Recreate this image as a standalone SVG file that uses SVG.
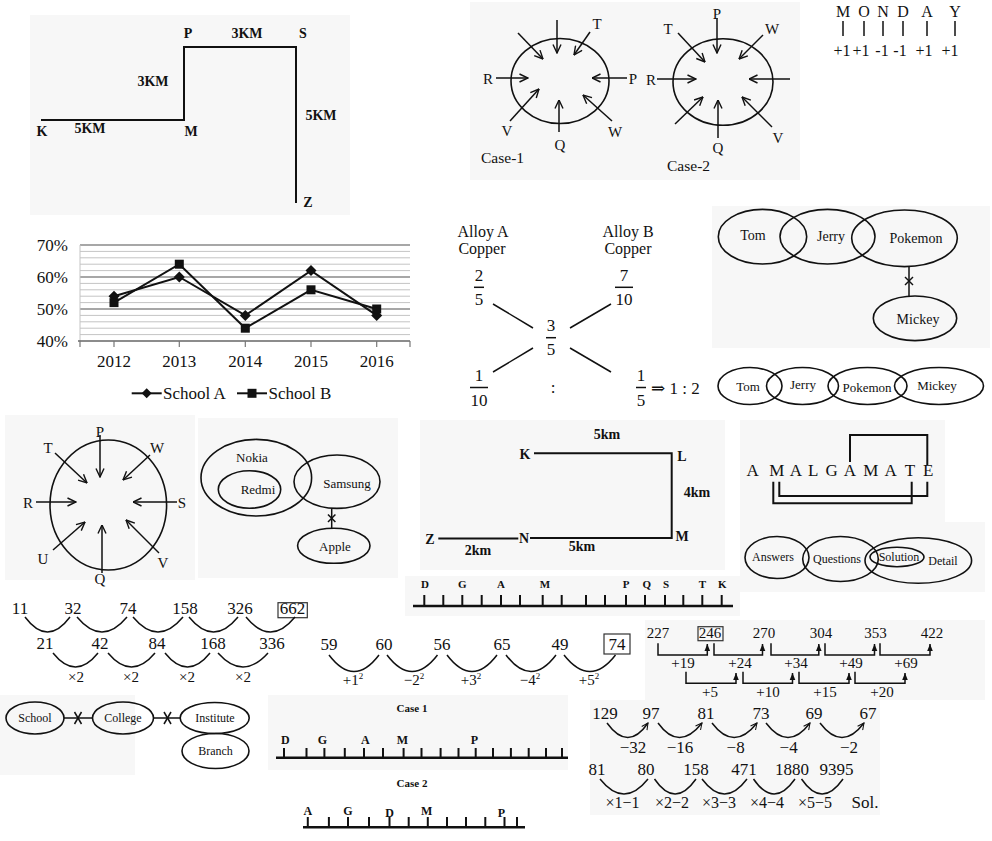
<svg xmlns="http://www.w3.org/2000/svg" width="992" height="841" viewBox="0 0 992 841">
<defs>
<style>
text{font-family:"Liberation Serif","DejaVu Serif",serif;fill:#111}
.b{font-weight:bold}
.m{text-anchor:middle}
.r{text-anchor:end}
.l{stroke:#111;fill:none;stroke-width:2}
.lt{stroke:#111;fill:none;stroke-width:1.5}
.e{stroke:#111;fill:none;stroke-width:1.6}
.bg{fill:#f7f7f7}
.gmin{stroke:#c4c4c4;stroke-width:1}
.gmaj{stroke:#8a8a8a;stroke-width:1.6}
.s11{font-size:11px}.s12{font-size:12px}.s13{font-size:13px}.s14{font-size:14px}.s15{font-size:15px}.s16{font-size:16px}.s17{font-size:17px}
</style>
<marker id="va" viewBox="0 0 10 10" refX="9.5" refY="5" markerWidth="10" markerHeight="10" markerUnits="userSpaceOnUse" orient="auto"><path d="M1,1 L9.5,5 L1,9" fill="none" stroke="#111" stroke-width="1.4"/></marker>
<marker id="tri" viewBox="0 0 10 10" refX="10" refY="5" markerWidth="7" markerHeight="7" markerUnits="userSpaceOnUse" orient="auto"><path d="M0,1 L10,5 L0,9 z" fill="#111"/></marker>
<marker id="vs" viewBox="0 0 10 10" refX="9" refY="5" markerWidth="8" markerHeight="8" markerUnits="userSpaceOnUse" orient="auto"><path d="M1,1 L9,5 L1,9" fill="none" stroke="#111" stroke-width="1.3"/></marker>
</defs>
<rect width="992" height="841" fill="#fff"/>

<g id="backgrounds">
<rect class="bg" x="30" y="15" width="320" height="200"/>
<rect class="bg" x="470" y="2" width="330" height="178"/>
<rect class="bg" x="712" y="206" width="278" height="142"/>
<rect class="bg" x="5" y="415" width="190" height="165"/>
<rect class="bg" x="198" y="418" width="200" height="160"/>
<rect class="bg" x="420" y="420" width="305" height="150"/>
<rect class="bg" x="405" y="576" width="335" height="40"/>
<rect class="bg" x="740" y="420" width="205" height="102"/>
<rect class="bg" x="740" y="522" width="245" height="70"/>
<rect class="bg" x="645" y="620" width="340" height="80"/>
<rect class="bg" x="0" y="695" width="135" height="80"/>
<rect class="bg" x="268" y="695" width="300" height="75"/>
<rect class="bg" x="590" y="700" width="290" height="115"/>
</g>

<g id="route-kmpsz">
<g id="route-connectors"><polyline class="l" stroke-width="2.5" points="41,120 184,120 184,47 296,47 296,203"/></g>
<g class="b s14">
<text x="188" y="38" class="m">P</text>
<text x="247" y="38" class="m">3KM</text>
<text x="303" y="38" class="m">S</text>
<text x="153" y="86" class="m">3KM</text>
<text x="321" y="120" class="m">5KM</text>
<text x="42" y="136" class="m">K</text>
<text x="90" y="133" class="m">5KM</text>
<text x="191" y="136" class="m">M</text>
<text x="308" y="207" class="m">Z</text>
</g>
</g>

<g id="case1-circle">
<ellipse class="e" cx="560" cy="81" rx="49" ry="42.5"/>
<g id="case1-arrows" class="lt">
<line x1="518" y1="33" x2="543" y2="59" marker-end="url(#va)"/>
<line x1="557" y1="20" x2="557" y2="53" marker-end="url(#va)"/>
<line x1="590" y1="32" x2="574" y2="55" marker-end="url(#va)"/>
<line x1="627" y1="78" x2="592" y2="78" marker-end="url(#va)"/>
<line x1="496" y1="78" x2="528" y2="78" marker-end="url(#va)"/>
<line x1="510" y1="121" x2="539" y2="89" marker-end="url(#va)"/>
<line x1="559" y1="132" x2="559" y2="100" marker-end="url(#va)"/>
<line x1="612" y1="121" x2="583" y2="95" marker-end="url(#va)"/>
</g>
<g class="s15">
<text x="597" y="29" class="m">T</text>
<text x="633" y="84" class="m">P</text>
<text x="488" y="84" class="m">R</text>
<text x="507" y="136" class="m">V</text>
<text x="560" y="150" class="m">Q</text>
<text x="615" y="137" class="m">W</text>
</g>
<text x="481" y="163" font-size="15.5">Case-1</text>
</g>

<g id="case2-circle">
<ellipse class="e" cx="723" cy="82" rx="50" ry="43.3"/>
<g id="case2-arrows" class="lt">
<line x1="678" y1="33" x2="705" y2="62" marker-end="url(#va)"/>
<line x1="717" y1="18" x2="717" y2="53" marker-end="url(#va)"/>
<line x1="763" y1="35" x2="739" y2="59" marker-end="url(#va)"/>
<line x1="657" y1="79" x2="696" y2="79" marker-end="url(#va)"/>
<line x1="790" y1="79" x2="749" y2="79" marker-end="url(#va)"/>
<line x1="675" y1="124" x2="703" y2="97" marker-end="url(#va)"/>
<line x1="718" y1="138" x2="718" y2="100" marker-end="url(#va)"/>
<line x1="772" y1="127" x2="742" y2="97" marker-end="url(#va)"/>
</g>
<g class="s15">
<text x="668" y="34" class="m">T</text>
<text x="717" y="19" class="m">P</text>
<text x="772" y="34" class="m">W</text>
<text x="651" y="85" class="m">R</text>
<text x="718" y="153" class="m">Q</text>
<text x="778" y="143" class="m">V</text>
</g>
<text x="667" y="171" font-size="15.5">Case-2</text>
</g>

<g id="monday">
<g class="s16">
<text x="843" y="17" class="m">M</text>
<text x="864" y="17" class="m">O</text>
<text x="883" y="17" class="m">N</text>
<text x="903" y="17" class="m">D</text>
<text x="927" y="17" class="m">A</text>
<text x="955" y="17" class="m">Y</text>
</g>
<g id="monday-connectors" class="lt">
<line x1="843" y1="21" x2="843" y2="36"/>
<line x1="864" y1="21" x2="864" y2="36"/>
<line x1="883" y1="21" x2="883" y2="36"/>
<line x1="903" y1="21" x2="903" y2="36"/>
<line x1="927" y1="21" x2="927" y2="36"/>
<line x1="955" y1="21" x2="955" y2="36"/>
</g>
<g class="s16">
<text x="842" y="56" class="m">+1</text>
<text x="861" y="56" class="m">+1</text>
<text x="882" y="56" class="m">-1</text>
<text x="900" y="56" class="m">-1</text>
<text x="924" y="56" class="m">+1</text>
<text x="950" y="56" class="m">+1</text>
</g>
</g>

<g id="chart">
<g id="grid">
<line class="gmin" x1="80" y1="251.4" x2="410" y2="251.4"/>
<line class="gmin" x1="80" y1="257.8" x2="410" y2="257.8"/>
<line class="gmin" x1="80" y1="264.2" x2="410" y2="264.2"/>
<line class="gmin" x1="80" y1="270.6" x2="410" y2="270.6"/>
<line class="gmin" x1="80" y1="283.4" x2="410" y2="283.4"/>
<line class="gmin" x1="80" y1="289.8" x2="410" y2="289.8"/>
<line class="gmin" x1="80" y1="296.2" x2="410" y2="296.2"/>
<line class="gmin" x1="80" y1="302.6" x2="410" y2="302.6"/>
<line class="gmin" x1="80" y1="315.4" x2="410" y2="315.4"/>
<line class="gmin" x1="80" y1="321.8" x2="410" y2="321.8"/>
<line class="gmin" x1="80" y1="328.2" x2="410" y2="328.2"/>
<line class="gmin" x1="80" y1="334.6" x2="410" y2="334.6"/>
<line class="gmaj" x1="80" y1="245" x2="410" y2="245"/>
<line class="gmaj" x1="80" y1="277" x2="410" y2="277"/>
<line class="gmaj" x1="80" y1="309" x2="410" y2="309"/>
<line class="gmin" x1="80" y1="245" x2="80" y2="341"/>
<line stroke="#666" stroke-width="1.6" x1="78" y1="341" x2="410" y2="341"/>
<g stroke="#777" stroke-width="1.2">
<line x1="80" y1="341" x2="80" y2="347"/>
<line x1="114" y1="341" x2="114" y2="347"/>
<line x1="179.3" y1="341" x2="179.3" y2="347"/>
<line x1="245.3" y1="341" x2="245.3" y2="347"/>
<line x1="311" y1="341" x2="311" y2="347"/>
<line x1="376.7" y1="341" x2="376.7" y2="347"/>
<line x1="410" y1="341" x2="410" y2="347"/>
</g>
</g>
<g class="s17">
<text x="68" y="251" class="r">70%</text>
<text x="68" y="283" class="r">60%</text>
<text x="68" y="315" class="r">50%</text>
<text x="68" y="347" class="r">40%</text>
<text x="114" y="367" class="m">2012</text>
<text x="179.3" y="367" class="m">2013</text>
<text x="245.3" y="367" class="m">2014</text>
<text x="311" y="367" class="m">2015</text>
<text x="376.7" y="367" class="m">2016</text>
</g>
<g id="series-a">
<polyline class="l" stroke-width="2.5" points="114,296.2 179.3,277 245.3,315.4 311,270.6 376.7,315.4"/>
<g fill="#111">
<path d="M114,290.7 l5.5,5.5 l-5.5,5.5 l-5.5,-5.5z"/>
<path d="M179.3,271.5 l5.5,5.5 l-5.5,5.5 l-5.5,-5.5z"/>
<path d="M245.3,309.9 l5.5,5.5 l-5.5,5.5 l-5.5,-5.5z"/>
<path d="M311,265.1 l5.5,5.5 l-5.5,5.5 l-5.5,-5.5z"/>
<path d="M376.7,309.9 l5.5,5.5 l-5.5,5.5 l-5.5,-5.5z"/>
</g>
</g>
<g id="series-b">
<polyline class="l" stroke-width="2.5" points="114,302.6 179.3,264.2 245.3,328.2 311,289.8 376.7,309"/>
<g fill="#111">
<rect x="109.5" y="298.1" width="9" height="9"/>
<rect x="174.8" y="259.7" width="9" height="9"/>
<rect x="240.8" y="323.7" width="9" height="9"/>
<rect x="306.5" y="285.3" width="9" height="9"/>
<rect x="372.2" y="304.5" width="9" height="9"/>
</g>
</g>
<g id="legend">
<line class="l" x1="131.7" y1="393.3" x2="161.7" y2="393.3"/>
<path d="M146.7,388.3 l5,5 l-5,5 l-5,-5z" fill="#111"/>
<text x="163" y="398.5" class="s17">School A</text>
<line class="l" x1="237" y1="393.3" x2="267" y2="393.3"/>
<rect x="247.5" y="388.8" width="9" height="9" fill="#111"/>
<text x="268.5" y="398.5" class="s17">School B</text>
</g>
</g>

<g id="alloy">
<g class="s16">
<text x="483" y="237" class="m">Alloy A</text>
<text x="482" y="254" class="m">Copper</text>
<text x="628" y="237" class="m">Alloy B</text>
<text x="628" y="254" class="m">Copper</text>
</g>
<g class="s17">
<text x="479" y="281" class="m">2</text>
<text x="479" y="305" class="m">5</text>
<text x="624" y="281" class="m">7</text>
<text x="624" y="305" class="m">10</text>
<text x="551" y="331" class="m">3</text>
<text x="551" y="355" class="m">5</text>
<text x="479" y="381" class="m">1</text>
<text x="479" y="406" class="m">10</text>
<text x="641" y="381" class="m">1</text>
<text x="641" y="406" class="m">5</text>
<text x="553" y="393" class="m">:</text>
<text x="651" y="394">⇒ 1 : 2</text>
</g>
<g id="alloy-connectors" class="lt">
<line x1="474" y1="287.3" x2="484" y2="287.3"/>
<line x1="615" y1="287.3" x2="633" y2="287.3"/>
<line x1="546" y1="337.7" x2="556" y2="337.7"/>
<line x1="470" y1="387.5" x2="488" y2="387.5"/>
<line x1="636" y1="387.5" x2="646" y2="387.5"/>
<line x1="493" y1="304" x2="533" y2="328"/>
<line x1="570" y1="328" x2="611" y2="304"/>
<line x1="533" y1="348" x2="493" y2="372"/>
<line x1="570" y1="348" x2="611" y2="372"/>
</g>
</g>

<g id="venn-tom">
<g id="tom"><ellipse class="e" cx="762.5" cy="236.7" rx="44.2" ry="27.3"/><text x="753" y="240" class="m s14">Tom</text></g>
<g id="jerry"><ellipse class="e" cx="827.5" cy="236.7" rx="47.5" ry="27.3"/><text x="831" y="241" class="m s14">Jerry</text></g>
<g id="pokemon"><ellipse class="e" cx="904.5" cy="238.3" rx="52.8" ry="28.3"/><text x="916" y="243" class="m s14">Pokemon</text></g>
<g id="mickey"><ellipse class="e" cx="915" cy="318.3" rx="41.7" ry="22.3"/><text x="918" y="324" class="m s14">Mickey</text></g>
<g id="venn-tom-connectors" class="lt">
<line x1="909" y1="266.6" x2="909" y2="296"/>
<line x1="905" y1="277" x2="913" y2="285"/>
<line x1="913" y1="277" x2="905" y2="285"/>
</g>
</g>

<g id="venn-row">
<g id="tom2"><ellipse class="e" cx="750" cy="386" rx="32" ry="18.5"/><text x="748" y="391" class="m s13">Tom</text></g>
<g id="jerry2"><ellipse class="e" cx="802.5" cy="386" rx="36" ry="18.5"/><text x="803" y="389" class="m s13">Jerry</text></g>
<g id="pokemon2"><ellipse class="e" cx="867.5" cy="386" rx="39.5" ry="18.5"/><text x="867" y="392" class="m s13">Pokemon</text></g>
<g id="mickey2"><ellipse class="e" cx="939" cy="386" rx="44.5" ry="18.5"/><text x="937" y="390" class="m s13">Mickey</text></g>
</g>

<g id="compass">
<ellipse class="e" cx="108.3" cy="505" rx="58.3" ry="65"/>
<g id="compass-arrows" class="lt">
<line x1="100" y1="435" x2="100" y2="477" marker-end="url(#va)"/>
<line x1="55" y1="453" x2="87" y2="483" marker-end="url(#va)"/>
<line x1="150" y1="455" x2="123" y2="480" marker-end="url(#va)"/>
<line x1="36" y1="502" x2="76" y2="502" marker-end="url(#va)"/>
<line x1="177" y1="502" x2="133" y2="502" marker-end="url(#va)"/>
<line x1="53" y1="550" x2="85" y2="522" marker-end="url(#va)"/>
<line x1="102" y1="573" x2="102" y2="525" marker-end="url(#va)"/>
<line x1="159" y1="553" x2="126" y2="520" marker-end="url(#va)"/>
</g>
<g class="s15">
<text x="100" y="437" class="m">P</text>
<text x="48" y="453" class="m">T</text>
<text x="157" y="453" class="m">W</text>
<text x="28" y="508" class="m">R</text>
<text x="182" y="508" class="m">S</text>
<text x="43" y="564" class="m">U</text>
<text x="163" y="568" class="m">V</text>
<text x="100" y="584" class="m">Q</text>
</g>
</g>

<g id="venn-nokia">
<g id="nokia"><ellipse class="e" cx="256.3" cy="477.7" rx="55.3" ry="38.3"/><text x="252" y="462" class="m s13">Nokia</text></g>
<g id="redmi"><ellipse class="e" cx="249.5" cy="489.5" rx="31.2" ry="18.8"/><text x="258" y="494" class="m s13">Redmi</text></g>
<g id="samsung"><ellipse class="e" cx="337" cy="481.7" rx="43" ry="26.7"/><text x="347" y="488" class="m s13">Samsung</text></g>
<g id="apple"><ellipse class="e" cx="333.8" cy="545.8" rx="36.2" ry="17.5"/><text x="335" y="551" class="m s13">Apple</text></g>
<g id="venn-nokia-connectors" class="lt">
<line x1="331.7" y1="508.3" x2="331.7" y2="528.3"/>
<line x1="328" y1="514.5" x2="335.4" y2="522"/>
<line x1="335.4" y1="514.5" x2="328" y2="522"/>
</g>
</g>

<g id="route-klmnz">
<g id="route2-connectors" class="l" stroke-width="2.5">
<polyline points="534,453.3 671.7,453.3 671.7,538 530,538"/>
<line x1="438.3" y1="538.5" x2="518.3" y2="538.5"/>
</g>
<g class="b s14">
<text x="525" y="459" class="m">K</text>
<text x="682" y="461" class="m">L</text>
<text x="607" y="439" class="m">5km</text>
<text x="697" y="497" class="m">4km</text>
<text x="682" y="541" class="m">M</text>
<text x="524" y="543" class="m">N</text>
<text x="430" y="544" class="m">Z</text>
<text x="478" y="555" class="m">2km</text>
<text x="582" y="551" class="m">5km</text>
</g>
</g>

<g id="ruler-top">
<g class="b s11">
<text x="425" y="588" class="m">D</text>
<text x="462.3" y="588" class="m">G</text>
<text x="501" y="588" class="m">A</text>
<text x="545" y="588" class="m">M</text>
<text x="626" y="588" class="m">P</text>
<text x="646.7" y="588" class="m">Q</text>
<text x="666" y="588" class="m">S</text>
<text x="702.3" y="588" class="m">T</text>
<text x="722.3" y="588" class="m">K</text>
</g>
<g id="ruler-top-lines" class="l">
<line x1="413" y1="606" x2="733" y2="606" stroke-width="2.5"/>
<path d="M424.3,595V606M443.3,595V606M462.3,595V606M481.7,595V606M501,595V606M520,595V606M542.7,595V606M561.7,595V606M586,595V606M605,595V606M626,595V606M645,595V606M665,595V606M683.3,595V606M702.3,595V606M721.7,595V606"/>
</g>
</g>

<g id="amalgamate">
<g class="s17">
<text x="752.7" y="476" class="m">A</text>
<text x="776.7" y="476" class="m">M</text>
<text x="796" y="476" class="m">A</text>
<text x="813.3" y="476" class="m">L</text>
<text x="831.7" y="476" class="m">G</text>
<text x="850" y="476" class="m">A</text>
<text x="870.7" y="476" class="m">M</text>
<text x="890.7" y="476" class="m">A</text>
<text x="910" y="476" class="m">T</text>
<text x="928.3" y="476" class="m">E</text>
</g>
<g id="amalgamate-connectors" class="l">
<polyline points="850,462 850,435 927.3,435 927.3,465"/>
<polyline points="779.3,481.7 779.3,496 927.3,496 927.3,481.7"/>
<polyline points="773.3,481.7 773.3,503.3 911.7,503.3 911.7,481.7"/>
</g>
</g>

<g id="venn-answers">
<g id="answers"><ellipse class="e" cx="777" cy="557.5" rx="32" ry="21"/><text x="773" y="561" class="m s12">Answers</text></g>
<g id="questions"><ellipse class="e" cx="840.5" cy="559" rx="37.8" ry="22.5"/><text x="837" y="563" class="m s12">Questions</text></g>
<g id="detail"><ellipse class="e" cx="918.3" cy="560.5" rx="53.3" ry="22.8"/><text x="943" y="565" class="m s12">Detail</text></g>
<g id="solution"><ellipse class="e" cx="897" cy="557" rx="27" ry="9.7"/><text x="899" y="561" class="m s12">Solution</text></g>
</g>

<g id="series-doubling">
<g class="s17">
<text x="20" y="614" class="m">11</text>
<text x="73" y="614" class="m">32</text>
<text x="128" y="614" class="m">74</text>
<text x="185" y="614" class="m">158</text>
<text x="240" y="614" class="m">326</text>
<text x="292.5" y="614" class="m">662</text>
<text x="45" y="649" class="m">21</text>
<text x="100" y="649" class="m">42</text>
<text x="157" y="649" class="m">84</text>
<text x="213" y="649" class="m">168</text>
<text x="272" y="649" class="m">336</text>
</g>
<rect x="278" y="602.7" width="29.3" height="15" fill="none" stroke="#333" stroke-width="1.2"/>
<g id="series-doubling-connectors" class="lt">
<path d="M25,617 Q47.5,647 70,617"/>
<path d="M77,617 Q102,647 127,617"/>
<path d="M133,617 Q158,647 183,617"/>
<path d="M189,617 Q213.5,647 238,617"/>
<path d="M246,617 Q270.5,647 295,617"/>
<path d="M53,653 Q75.5,681 98,653"/>
<path d="M108,653 Q131.5,681 155,653"/>
<path d="M165,653 Q187.5,681 210,653"/>
<path d="M218,653 Q243,681 268,653"/>
</g>
<g class="s15">
<text x="76" y="682" class="m">×2</text>
<text x="131" y="682" class="m">×2</text>
<text x="187" y="682" class="m">×2</text>
<text x="243" y="682" class="m">×2</text>
</g>
</g>

<g id="series-squares">
<g class="s17">
<text x="329" y="650" class="m">59</text>
<text x="384" y="650" class="m">60</text>
<text x="442" y="650" class="m">56</text>
<text x="502" y="650" class="m">65</text>
<text x="560" y="650" class="m">49</text>
<text x="617" y="650" class="m">74</text>
</g>
<rect x="604" y="634" width="26" height="20" fill="none" stroke="#333" stroke-width="1.2"/>
<g id="series-squares-connectors" class="lt">
<path d="M329,655 Q354,688 379,655"/>
<path d="M387,655 Q412,688 437.5,655"/>
<path d="M447,655 Q472,688 497,655"/>
<path d="M506,655 Q531,688 556,655"/>
<path d="M564,655 Q590,688 615.5,655"/>
</g>
<g class="s15">
<text x="353" y="685" class="m">+1<tspan dy="-6" font-size="9">2</tspan></text>
<text x="414" y="685" class="m">−2<tspan dy="-6" font-size="9">2</tspan></text>
<text x="471" y="685" class="m">+3<tspan dy="-6" font-size="9">2</tspan></text>
<text x="530" y="685" class="m">−4<tspan dy="-6" font-size="9">2</tspan></text>
<text x="589" y="685" class="m">+5<tspan dy="-6" font-size="9">2</tspan></text>
</g>
</g>

<g id="series-diff">
<g class="s15">
<text x="658" y="638" class="m">227</text>
<text x="710" y="638" class="m">246</text>
<text x="764" y="638" class="m">270</text>
<text x="821" y="638" class="m">304</text>
<text x="875.5" y="638" class="m">353</text>
<text x="932" y="638" class="m">422</text>
</g>
<rect x="698" y="626.7" width="25" height="14" fill="none" stroke="#333" stroke-width="1.2"/>
<g id="series-diff-connectors" class="lt">
<polyline points="658,643.3 658,655 707.3,655 707.3,644" marker-end="url(#tri)"/>
<polyline points="714,643.3 714,655 762.5,655 762.5,644" marker-end="url(#tri)"/>
<polyline points="771,643.3 771,655 818.8,655 818.8,644" marker-end="url(#tri)"/>
<polyline points="825,643.3 825,655 874.5,655 874.5,644" marker-end="url(#tri)"/>
<polyline points="880,643.3 880,655 930,655 930,644" marker-end="url(#tri)"/>
<polyline points="686,671.7 686,683.3 736,683.3 736,673" marker-end="url(#tri)"/>
<polyline points="743,671.7 743,683.3 792.5,683.3 792.5,673" marker-end="url(#tri)"/>
<polyline points="799,671.7 799,683.3 849,683.3 849,673" marker-end="url(#tri)"/>
<polyline points="855,671.7 855,683.3 905,683.3 905,673" marker-end="url(#tri)"/>
</g>
<g class="s15">
<text x="683" y="668" class="m">+19</text>
<text x="740" y="668" class="m">+24</text>
<text x="796" y="668" class="m">+34</text>
<text x="851" y="668" class="m">+49</text>
<text x="906" y="668" class="m">+69</text>
<text x="710" y="697" class="m">+5</text>
<text x="768" y="697" class="m">+10</text>
<text x="825" y="697" class="m">+15</text>
<text x="882" y="697" class="m">+20</text>
</g>
</g>

<g id="venn-school">
<g id="school"><ellipse class="e" cx="35" cy="718" rx="29" ry="16"/><text x="35" y="722" class="m s12">School</text></g>
<g id="college"><ellipse class="e" cx="123" cy="718" rx="30.5" ry="16"/><text x="123" y="722" class="m s12">College</text></g>
<g id="institute"><ellipse class="e" cx="214.7" cy="718" rx="34.5" ry="15.5"/><text x="215" y="722" class="m s12">Institute</text></g>
<g id="branch"><ellipse class="e" cx="215.5" cy="751" rx="33.5" ry="17.5"/><text x="215.5" y="755" class="m s12">Branch</text></g>
<g id="venn-school-connectors" class="lt">
<line x1="64" y1="718" x2="92.5" y2="718"/>
<line x1="74.5" y1="712" x2="81.5" y2="724"/>
<line x1="81.5" y1="712" x2="74.5" y2="724"/>
<line x1="153.5" y1="718" x2="180.2" y2="718"/>
<line x1="164" y1="712" x2="171" y2="724"/>
<line x1="171" y1="712" x2="164" y2="724"/>
</g>
</g>

<g id="ruler-case1">
<text x="412" y="712" class="m b s11">Case 1</text>
<g class="b s12">
<text x="285.4" y="744" class="m">D</text>
<text x="322.5" y="744" class="m">G</text>
<text x="365.3" y="744" class="m">A</text>
<text x="402.3" y="744" class="m">M</text>
<text x="474.5" y="744" class="m">P</text>
</g>
<g id="ruler-case1-lines" class="l">
<line x1="276" y1="757.7" x2="568" y2="757.7" stroke-width="2.5"/>
<path d="M284,748V757.7M306.5,748V757.7M324.4,748V757.7M344.8,748V757.7M364,748V757.7M383,748V757.7M403.6,748V757.7M421.5,748V757.7M440.6,748V757.7M458.5,748V757.7M475.7,748V757.7M493,748V757.7M510.9,748V757.7M528.7,748V757.7M546,748V757.7M562,748V757.7"/>
</g>
</g>
<g id="ruler-case2">
<text x="412" y="787" class="m b s11">Case 2</text>
<g class="b s12">
<text x="307.8" y="815" class="m">A</text>
<text x="348" y="815" class="m">G</text>
<text x="389.5" y="817" class="m">D</text>
<text x="426.6" y="815" class="m">M</text>
<text x="501.3" y="817" class="m">P</text>
</g>
<g id="ruler-case2-lines" class="l">
<line x1="303" y1="827.3" x2="525" y2="827.3" stroke-width="2.5"/>
<path d="M307.8,817V827.3M328.9,817V827.3M348,817V827.3M369,817V827.3M389.5,817V827.3M408.7,817V827.3M427.8,817V827.3M447,817V827.3M466,817V827.3M485.3,817V827.3M504.5,817V827.3M517,817V827.3"/>
</g>
</g>

<g id="series-halving">
<g class="s17">
<text x="605" y="719" class="m">129</text>
<text x="651" y="719" class="m">97</text>
<text x="706" y="719" class="m">81</text>
<text x="761" y="719" class="m">73</text>
<text x="814" y="719" class="m">69</text>
<text x="868" y="719" class="m">67</text>
</g>
<g id="series-halving-connectors" class="lt">
<path d="M607,723 Q628,752 648,723" marker-end="url(#vs)"/>
<path d="M658,723 Q679,752 702,723" marker-end="url(#vs)"/>
<path d="M712,723 Q734,752 757,723" marker-end="url(#vs)"/>
<path d="M766,723 Q788,752 810,723" marker-end="url(#vs)"/>
<path d="M820,723 Q842,752 864,723" marker-end="url(#vs)"/>
</g>
<g class="s17">
<text x="633" y="753" class="m">−32</text>
<text x="680" y="753" class="m">−16</text>
<text x="735.6" y="753" class="m">−8</text>
<text x="788.6" y="753" class="m">−4</text>
<text x="849" y="753" class="m">−2</text>
</g>
</g>

<g id="series-mult">
<g class="s17">
<text x="597" y="775" class="m">81</text>
<text x="646" y="775" class="m">80</text>
<text x="696" y="775" class="m">158</text>
<text x="744" y="775" class="m">471</text>
<text x="792" y="775" class="m">1880</text>
<text x="836.5" y="775" class="m">9395</text>
</g>
<g id="series-mult-connectors" class="lt">
<path d="M600,779 Q624,809 648,779"/>
<path d="M654.5,779 Q675,809 696,779"/>
<path d="M702,779 Q724.5,809 747,779"/>
<path d="M753.5,779 Q774,809 795,779"/>
<path d="M801.5,779 Q822,809 843,779"/>
</g>
<g class="s16">
<text x="622.6" y="808" class="m">×1−1</text>
<text x="672" y="808" class="m">×2−2</text>
<text x="719" y="808" class="m">×3−3</text>
<text x="767" y="808" class="m">×4−4</text>
<text x="815" y="808" class="m">×5−5</text>
<text x="865" y="808" class="m s17">Sol.</text>
</g>
</g>
</svg>
